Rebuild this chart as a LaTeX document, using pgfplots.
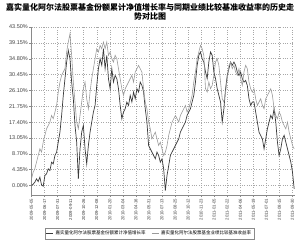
\documentclass[border=0pt]{standalone}
\usepackage{pgfplots}
\usepackage{pgfplotstable}
\pgfplotsset{compat=1.18}
\usepackage{fontspec}
\setmainfont{Liberation Sans}
\newfontfamily\cjk{Noto Sans CJK SC}
\definecolor{fundc}{HTML}{3A3A3A}
\definecolor{benchc}{HTML}{9A9A9A}
\definecolor{gridc}{HTML}{A8A8A8}
\definecolor{axc}{HTML}{8A8A8A}
\pgfplotstableread{
k v
0 0
1 0.37
2 0.92
3 1.83
4 1.10
5 2.29
6 0.18
7 -0.18
8 2.75
9 3.21
10 4.58
11 4.12
12 6.41
13 5.95
14 8.24
15 9.16
16 11.91
17 14.65
18 19.23
19 24.73
20 29.31
21 33.88
22 37.09
23 34.80
24 28.39
25 23.81
26 16.48
27 11.91
28 1.83
29 10.07
30 14.65
31 16.48
32 10.07
33 5.95
34 10.99
35 14.65
36 17.40
37 20.15
38 21.98
39 27.47
40 32.05
41 34.80
42 32.97
43 37.55
44 32.05
45 35.72
46 29.31
47 26.56
48 32.05
49 28.39
50 30.22
51 29.31
52 26.56
53 21.98
54 18.32
55 20.15
56 21.06
57 22.90
58 21.98
59 24.73
60 22.90
61 25.64
62 23.81
63 26.56
64 25.64
65 28.39
66 27.47
67 25.64
68 21.06
69 17.40
70 10.99
71 10.07
72 9.16
73 8.24
74 7.33
75 9.16
76 8.24
77 6.41
78 7.33
79 4.58
80 -1.37
81 2.75
82 5.49
83 8.24
84 9.16
85 10.07
86 10.99
87 11.91
88 12.82
89 14.65
90 15.57
91 16.48
92 17.40
93 19.23
94 20.15
95 21.06
96 22.90
97 24.73
98 28.39
99 32.97
100 35.72
101 36.63
102 34.80
103 33.88
104 31.14
105 29.31
106 33.88
107 36.63
108 35.72
109 31.14
110 29.31
111 26.56
112 24.73
113 22.90
114 17.40
115 21.06
116 26.56
117 30.22
118 32.05
119 33.88
120 32.97
121 33.88
122 32.97
123 31.14
124 30.22
125 31.14
126 29.31
127 28.39
128 28.85
129 27.47
130 23.81
131 21.98
132 22.90
133 22.90
134 20.15
135 17.40
136 14.65
137 13.74
138 12.82
139 10.07
140 12.82
141 15.57
142 17.40
143 19.23
144 18.32
145 21.06
146 17.40
147 11.91
148 8.24
149 10.07
150 12.82
151 13.74
152 11.91
153 10.07
154 8.24
155 6.41
156 3.66
157 -0.92
}\fund
\pgfplotstableread{
k v
0 1.83
1 3.66
2 4.58
3 6.41
4 8.24
5 10.07
6 9.16
7 11.91
8 13.74
9 15.57
10 16.48
11 17.40
12 19.23
13 18.32
14 20.15
15 21.98
16 25.64
17 28.39
18 30.22
19 31.14
20 32.05
21 36.63
22 39.38
23 41.67
24 35.72
25 28.39
26 22.90
27 17.40
28 15.57
29 19.23
30 22.90
31 26.56
32 28.39
33 23.81
34 21.06
35 25.64
36 29.31
37 32.05
38 34.80
39 37.55
40 36.63
41 38.46
42 37.55
43 39.38
44 37.55
45 39.38
46 35.72
47 36.63
48 34.80
49 33.88
50 35.72
51 34.80
52 32.05
53 29.31
54 26.56
55 24.73
56 26.56
57 27.47
58 28.39
59 29.31
60 30.22
61 28.39
62 31.14
63 32.05
64 32.97
65 32.05
66 31.14
67 26.56
68 22.90
69 21.06
70 17.40
71 15.57
72 12.82
73 13.74
74 14.65
75 12.82
76 10.99
77 11.91
78 10.07
79 8.24
80 9.16
81 10.99
82 13.74
83 15.57
84 17.40
85 18.32
86 19.23
87 18.32
88 17.40
89 19.23
90 20.15
91 21.06
92 21.98
93 20.15
94 21.06
95 22.90
96 24.73
97 28.39
98 31.14
99 34.80
100 36.63
101 38.46
102 37.55
103 35.72
104 26.56
105 25.64
106 28.39
107 26.56
108 27.47
109 30.22
110 33.88
111 34.80
112 32.97
113 28.39
114 23.81
115 22.90
116 25.64
117 29.31
118 32.97
119 33.88
120 32.05
121 32.97
122 31.14
123 30.22
124 32.05
125 29.31
126 27.47
127 31.14
128 32.97
129 32.05
130 28.39
131 26.56
132 25.64
133 26.56
134 23.81
135 21.98
136 22.90
137 23.81
138 21.98
139 21.06
140 23.81
141 24.73
142 25.64
143 26.56
144 24.73
145 21.06
146 19.23
147 18.32
148 20.15
149 19.23
150 17.40
151 16.48
152 15.57
153 17.40
154 14.65
155 12.82
156 10.99
157 10.07
}\bench
\begin{document}
\begin{tikzpicture}
\path[use as bounding box] (0,0) rectangle (300bp,244bp);
\node[font=\cjk\bfseries\fontsize{8bp}{9bp}\selectfont, inner sep=0pt] at (150bp,236.5bp) {嘉实量化阿尔法股票基金份额累计净值增长率与同期业绩比较基准收益率的历史走};
\node[font=\cjk\bfseries\fontsize{8bp}{9bp}\selectfont, inner sep=0pt] at (150bp,227.3bp) {势对比图};
\begin{axis}[
  at={(31.5bp,49bp)}, anchor=south west,
  scale only axis, width=263bp, height=168bp,
  xmin=0, xmax=157.2, ymin=-2.6, ymax=43.5,
  axis lines*=left,
  axis line style={axc, line width=0.5pt},
  xtick={0,7.8,15.6,23.4,31.2,39,46.8,54.6,62.4,70.2,78,85.8,93.6,101.4,109.2,117,124.8,132.6,140.4,148.2,156},
  xticklabels={2009-05-05,2009-06-17,2009-07-31,2009-09-11,2009-10-26,2009-12-08,2010-01-20,2010-03-04,2010-04-16,2010-05-31,2010-07-13,2010-08-25,2010-10-12,2010-11-23,2011-01-05,2011-02-22,2011-04-06,2011-05-19,2011-07-01,2011-08-15,2011-09-30},
  ytick={0,4.35,8.7,13.05,17.4,21.75,26.1,30.45,34.8,39.15,43.5},
  yticklabels={0.00\%,4.35\%,8.70\%,13.05\%,17.40\%,21.75\%,26.10\%,30.45\%,34.80\%,39.15\%,43.50\%},
  xticklabel style={rotate=90, anchor=east, font=\fontsize{4.3bp}{5bp}\selectfont, text=black!75, inner sep=1.5bp},
  yticklabel style={font=\fontsize{5.5bp}{6bp}\selectfont, text=black!75, inner sep=1.5bp},
  tick align=outside, major tick length=2bp,
  tick style={axc, line width=0.4pt},
  grid=major,
  major grid style={gridc, dotted, line width=0.45pt},
  legend columns=2,
  legend style={at={(0.449,-0.229)}, anchor=center, draw=axc, line width=0.4pt,
    font=\cjk\fontsize{4.5bp}{5bp}\selectfont, inner sep=1pt,
    /tikz/every even column/.append style={column sep=4bp}},
  legend image code/.code={\draw[#1] (0bp,0bp) -- (7bp,0bp);},
]
\addplot[fundc, line width=0.7pt] table[x=k, y=v] {\fund};
\addplot[benchc, line width=0.6pt] table[x=k, y=v] {\bench};
\legend{嘉实量化阿尔法股票基金份额累计净值增长率, 嘉实量化阿尔法股票基金业绩比较基准收益率}
\end{axis}
\end{tikzpicture}
\end{document}
